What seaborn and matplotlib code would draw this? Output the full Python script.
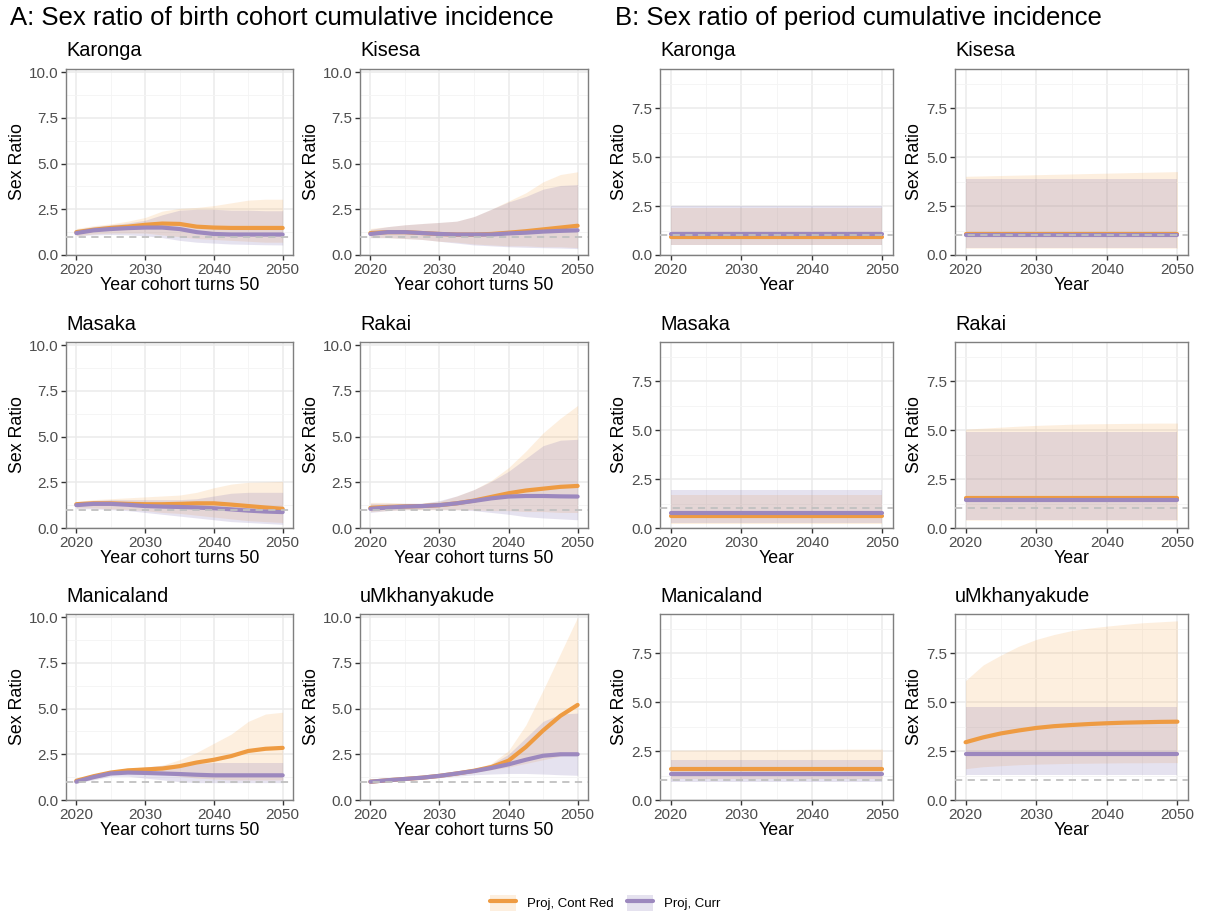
import numpy as np
import pandas as pd
import matplotlib
matplotlib.use("Agg")
import matplotlib.pyplot as plt
import seaborn as sns
from matplotlib.patches import Patch
from matplotlib.lines import Line2D
from matplotlib.ticker import MultipleLocator

# ---------------- data ----------------
years = [2020, 2022.5, 2025, 2027.5, 2030, 2032.5, 2035, 2037.5, 2040, 2042.5, 2045, 2047.5, 2050]
sites = ["Karonga", "Kisesa", "Masaka", "Rakai", "Manicaland", "uMkhanyakude"]
scenarios = ["Proj, Cont Red", "Proj, Curr"]

# Panel A: birth cohort cumulative incidence (mid, lo, hi)
karonga_A_red_mid = [1.25, 1.38, 1.48, 1.55, 1.65, 1.72, 1.70, 1.55, 1.50, 1.48, 1.48, 1.48, 1.48]
karonga_A_red_lo = [1.05, 1.15, 1.20, 1.20, 1.20, 1.10, 1.00, 0.90, 0.85, 0.80, 0.75, 0.70, 0.70]
karonga_A_red_hi = [1.45, 1.60, 1.70, 1.85, 2.05, 2.40, 2.55, 2.60, 2.70, 2.85, 3.00, 3.05, 3.05]
karonga_A_cur_mid = [1.20, 1.35, 1.42, 1.47, 1.50, 1.50, 1.42, 1.25, 1.15, 1.12, 1.12, 1.12, 1.12]
karonga_A_cur_lo = [1.05, 1.10, 1.12, 1.10, 1.05, 0.95, 0.80, 0.70, 0.65, 0.60, 0.58, 0.56, 0.55]
karonga_A_cur_hi = [1.40, 1.55, 1.65, 1.75, 1.90, 2.20, 2.45, 2.50, 2.50, 2.45, 2.45, 2.42, 2.42]

kisesa_A_red_mid = [1.20, 1.25, 1.25, 1.20, 1.15, 1.12, 1.12, 1.15, 1.22, 1.30, 1.40, 1.50, 1.60]
kisesa_A_red_lo = [0.95, 0.95, 0.90, 0.85, 0.75, 0.70, 0.60, 0.55, 0.50, 0.50, 0.45, 0.45, 0.40]
kisesa_A_red_hi = [1.45, 1.55, 1.65, 1.72, 1.78, 1.85, 2.10, 2.50, 2.95, 3.40, 4.00, 4.40, 4.55]
kisesa_A_cur_mid = [1.15, 1.25, 1.25, 1.20, 1.15, 1.12, 1.12, 1.12, 1.18, 1.22, 1.28, 1.32, 1.35]
kisesa_A_cur_lo = [0.95, 0.95, 0.90, 0.85, 0.75, 0.65, 0.55, 0.50, 0.45, 0.42, 0.40, 0.38, 0.35]
kisesa_A_cur_hi = [1.40, 1.55, 1.65, 1.72, 1.78, 1.85, 2.10, 2.50, 2.90, 3.20, 3.60, 3.80, 3.85]

masaka_A_red_mid = [1.30, 1.35, 1.35, 1.32, 1.30, 1.30, 1.32, 1.35, 1.35, 1.28, 1.20, 1.12, 1.05]
masaka_A_red_lo = [1.10, 1.10, 1.05, 1.00, 0.95, 0.85, 0.80, 0.70, 0.60, 0.50, 0.40, 0.35, 0.30]
masaka_A_red_hi = [1.45, 1.55, 1.60, 1.65, 1.70, 1.75, 1.80, 1.95, 2.20, 2.40, 2.50, 2.52, 2.55]
masaka_A_cur_mid = [1.25, 1.32, 1.32, 1.27, 1.20, 1.17, 1.15, 1.12, 1.08, 1.02, 0.95, 0.90, 0.87]
masaka_A_cur_lo = [1.05, 1.05, 1.00, 0.95, 0.85, 0.75, 0.65, 0.55, 0.45, 0.35, 0.30, 0.25, 0.20]
masaka_A_cur_hi = [1.45, 1.50, 1.55, 1.55, 1.55, 1.55, 1.55, 1.60, 1.75, 1.90, 1.95, 1.95, 1.95]

rakai_A_red_mid = [1.10, 1.15, 1.18, 1.20, 1.25, 1.35, 1.50, 1.70, 1.90, 2.05, 2.15, 2.25, 2.30]
rakai_A_red_lo = [0.90, 0.95, 1.00, 1.00, 1.00, 1.00, 1.00, 0.95, 0.95, 0.90, 0.90, 0.85, 0.85]
rakai_A_red_hi = [1.40, 1.40, 1.35, 1.35, 1.45, 1.75, 2.10, 2.60, 3.30, 4.20, 5.20, 6.00, 6.70]
rakai_A_cur_mid = [1.05, 1.12, 1.17, 1.20, 1.25, 1.35, 1.48, 1.62, 1.72, 1.75, 1.75, 1.73, 1.72]
rakai_A_cur_lo = [0.85, 0.95, 1.00, 1.02, 1.00, 1.00, 0.95, 0.85, 0.75, 0.62, 0.55, 0.50, 0.45]
rakai_A_cur_hi = [1.35, 1.35, 1.35, 1.35, 1.50, 1.75, 2.10, 2.55, 3.10, 3.80, 4.50, 4.80, 4.85]

manicaland_A_red_mid = [1.05, 1.30, 1.50, 1.62, 1.67, 1.72, 1.85, 2.05, 2.20, 2.40, 2.68, 2.80, 2.85]
manicaland_A_red_lo = [0.95, 1.15, 1.40, 1.50, 1.50, 1.40, 1.30, 1.20, 1.15, 1.10, 1.10, 1.10, 1.10]
manicaland_A_red_hi = [1.10, 1.35, 1.60, 1.75, 1.80, 1.90, 2.20, 2.60, 3.10, 3.60, 4.30, 4.70, 4.80]
manicaland_A_cur_mid = [1.00, 1.25, 1.45, 1.50, 1.48, 1.45, 1.42, 1.38, 1.35, 1.35, 1.35, 1.35, 1.35]
manicaland_A_cur_lo = [0.95, 1.10, 1.30, 1.30, 1.20, 1.10, 1.00, 0.95, 0.95, 0.95, 0.95, 0.95, 0.95]
manicaland_A_cur_hi = [1.10, 1.35, 1.55, 1.70, 1.80, 1.90, 1.95, 2.00, 2.05, 2.05, 2.05, 2.05, 2.05]

umkh_A_red_mid = [1.00, 1.08, 1.15, 1.22, 1.32, 1.45, 1.60, 1.80, 2.15, 2.90, 3.80, 4.60, 5.20]
umkh_A_red_lo = [0.95, 1.02, 1.10, 1.18, 1.27, 1.38, 1.50, 1.65, 1.80, 2.00, 2.20, 2.40, 2.60]
umkh_A_red_hi = [1.05, 1.12, 1.20, 1.28, 1.38, 1.52, 1.70, 2.00, 2.70, 4.10, 6.00, 8.00, 10.00]
umkh_A_cur_mid = [1.00, 1.08, 1.15, 1.22, 1.32, 1.45, 1.58, 1.75, 1.95, 2.20, 2.42, 2.50, 2.50]
umkh_A_cur_lo = [0.95, 1.02, 1.10, 1.15, 1.22, 1.30, 1.38, 1.42, 1.45, 1.45, 1.42, 1.38, 1.35]
umkh_A_cur_hi = [1.05, 1.12, 1.20, 1.28, 1.38, 1.52, 1.68, 1.95, 2.50, 3.40, 4.30, 4.70, 4.75]

# Panel B: period cumulative incidence (mid, lo, hi)
karonga_B_red_mid = [0.93, 0.93, 0.93, 0.93, 0.93, 0.93, 0.93, 0.93, 0.93, 0.93, 0.93, 0.93, 0.93]
karonga_B_red_lo = [0.50, 0.50, 0.50, 0.50, 0.50, 0.50, 0.50, 0.50, 0.50, 0.50, 0.50, 0.50, 0.50]
karonga_B_red_hi = [2.40, 2.40, 2.40, 2.40, 2.40, 2.40, 2.40, 2.40, 2.40, 2.40, 2.40, 2.40, 2.40]
karonga_B_cur_mid = [1.05, 1.05, 1.05, 1.05, 1.05, 1.05, 1.05, 1.05, 1.05, 1.05, 1.05, 1.05, 1.05]
karonga_B_cur_lo = [0.52, 0.52, 0.52, 0.52, 0.52, 0.52, 0.52, 0.52, 0.52, 0.52, 0.52, 0.52, 0.52]
karonga_B_cur_hi = [2.50, 2.50, 2.50, 2.50, 2.50, 2.50, 2.50, 2.50, 2.50, 2.50, 2.50, 2.50, 2.50]

kisesa_B_red_mid = [1.08, 1.08, 1.08, 1.08, 1.08, 1.08, 1.08, 1.08, 1.08, 1.08, 1.08, 1.08, 1.08]
kisesa_B_red_lo = [0.35, 0.35, 0.35, 0.35, 0.35, 0.35, 0.35, 0.35, 0.35, 0.35, 0.35, 0.35, 0.35]
kisesa_B_red_hi = [4.02, 4.04, 4.06, 4.08, 4.10, 4.12, 4.14, 4.16, 4.18, 4.20, 4.22, 4.24, 4.26]
kisesa_B_cur_mid = [1.00, 1.00, 1.00, 1.00, 1.00, 1.00, 1.00, 1.00, 1.00, 1.00, 1.00, 1.00, 1.00]
kisesa_B_cur_lo = [0.36, 0.36, 0.36, 0.36, 0.36, 0.36, 0.36, 0.36, 0.36, 0.36, 0.36, 0.36, 0.36]
kisesa_B_cur_hi = [3.90, 3.90, 3.90, 3.90, 3.90, 3.90, 3.90, 3.90, 3.90, 3.90, 3.90, 3.90, 3.90]

masaka_B_red_mid = [0.62, 0.62, 0.62, 0.62, 0.62, 0.62, 0.62, 0.62, 0.62, 0.62, 0.62, 0.62, 0.62]
masaka_B_red_lo = [0.20, 0.20, 0.20, 0.20, 0.20, 0.20, 0.20, 0.20, 0.20, 0.20, 0.20, 0.20, 0.20]
masaka_B_red_hi = [1.70, 1.70, 1.70, 1.70, 1.70, 1.70, 1.70, 1.70, 1.70, 1.70, 1.70, 1.70, 1.70]
masaka_B_cur_mid = [0.75, 0.75, 0.75, 0.75, 0.75, 0.75, 0.75, 0.75, 0.75, 0.75, 0.75, 0.75, 0.75]
masaka_B_cur_lo = [0.25, 0.25, 0.25, 0.25, 0.25, 0.25, 0.25, 0.25, 0.25, 0.25, 0.25, 0.25, 0.25]
masaka_B_cur_hi = [1.95, 1.95, 1.95, 1.95, 1.95, 1.95, 1.95, 1.95, 1.95, 1.95, 1.95, 1.95, 1.95]

rakai_B_red_mid = [1.52, 1.52, 1.52, 1.52, 1.52, 1.52, 1.52, 1.52, 1.52, 1.52, 1.52, 1.52, 1.52]
rakai_B_red_lo = [0.40, 0.40, 0.40, 0.40, 0.40, 0.40, 0.40, 0.40, 0.40, 0.40, 0.40, 0.40, 0.40]
rakai_B_red_hi = [5.05, 5.10, 5.15, 5.20, 5.24, 5.27, 5.30, 5.32, 5.33, 5.34, 5.35, 5.36, 5.36]
rakai_B_cur_mid = [1.42, 1.42, 1.42, 1.42, 1.42, 1.42, 1.42, 1.42, 1.42, 1.42, 1.42, 1.42, 1.42]
rakai_B_cur_lo = [0.42, 0.42, 0.42, 0.42, 0.42, 0.42, 0.42, 0.42, 0.42, 0.42, 0.42, 0.42, 0.42]
rakai_B_cur_hi = [4.90, 4.90, 4.90, 4.90, 4.90, 4.90, 4.90, 4.90, 4.90, 4.90, 4.90, 4.90, 4.90]

manicaland_B_red_mid = [1.58, 1.58, 1.58, 1.58, 1.58, 1.58, 1.58, 1.58, 1.58, 1.58, 1.58, 1.58, 1.58]
manicaland_B_red_lo = [1.10, 1.10, 1.10, 1.10, 1.10, 1.10, 1.10, 1.10, 1.10, 1.10, 1.10, 1.10, 1.10]
manicaland_B_red_hi = [2.55, 2.55, 2.56, 2.56, 2.57, 2.57, 2.58, 2.58, 2.59, 2.59, 2.60, 2.60, 2.60]
manicaland_B_cur_mid = [1.32, 1.32, 1.32, 1.32, 1.32, 1.32, 1.32, 1.32, 1.32, 1.32, 1.32, 1.32, 1.32]
manicaland_B_cur_lo = [0.90, 0.90, 0.90, 0.90, 0.90, 0.90, 0.90, 0.90, 0.90, 0.90, 0.90, 0.90, 0.90]
manicaland_B_cur_hi = [2.05, 2.05, 2.05, 2.05, 2.05, 2.05, 2.05, 2.05, 2.05, 2.05, 2.05, 2.05, 2.05]

umkh_B_red_mid = [2.95, 3.20, 3.40, 3.55, 3.68, 3.77, 3.83, 3.88, 3.92, 3.95, 3.97, 3.99, 4.00]
umkh_B_red_lo = [1.60, 1.70, 1.75, 1.80, 1.83, 1.85, 1.87, 1.88, 1.89, 1.90, 1.90, 1.91, 1.91]
umkh_B_red_hi = [6.10, 6.90, 7.40, 7.85, 8.20, 8.45, 8.65, 8.78, 8.88, 8.97, 9.05, 9.10, 9.15]
umkh_B_cur_mid = [2.35, 2.35, 2.35, 2.35, 2.35, 2.35, 2.35, 2.35, 2.35, 2.35, 2.35, 2.35, 2.35]
umkh_B_cur_lo = [1.30, 1.30, 1.30, 1.30, 1.30, 1.30, 1.30, 1.30, 1.30, 1.30, 1.30, 1.30, 1.30]
umkh_B_cur_hi = [4.75, 4.75, 4.75, 4.75, 4.75, 4.75, 4.75, 4.75, 4.75, 4.75, 4.75, 4.75, 4.75]

A_series = {
    "Karonga": [(karonga_A_red_mid, karonga_A_red_lo, karonga_A_red_hi), (karonga_A_cur_mid, karonga_A_cur_lo, karonga_A_cur_hi)],
    "Kisesa": [(kisesa_A_red_mid, kisesa_A_red_lo, kisesa_A_red_hi), (kisesa_A_cur_mid, kisesa_A_cur_lo, kisesa_A_cur_hi)],
    "Masaka": [(masaka_A_red_mid, masaka_A_red_lo, masaka_A_red_hi), (masaka_A_cur_mid, masaka_A_cur_lo, masaka_A_cur_hi)],
    "Rakai": [(rakai_A_red_mid, rakai_A_red_lo, rakai_A_red_hi), (rakai_A_cur_mid, rakai_A_cur_lo, rakai_A_cur_hi)],
    "Manicaland": [(manicaland_A_red_mid, manicaland_A_red_lo, manicaland_A_red_hi), (manicaland_A_cur_mid, manicaland_A_cur_lo, manicaland_A_cur_hi)],
    "uMkhanyakude": [(umkh_A_red_mid, umkh_A_red_lo, umkh_A_red_hi), (umkh_A_cur_mid, umkh_A_cur_lo, umkh_A_cur_hi)],
}
B_series = {
    "Karonga": [(karonga_B_red_mid, karonga_B_red_lo, karonga_B_red_hi), (karonga_B_cur_mid, karonga_B_cur_lo, karonga_B_cur_hi)],
    "Kisesa": [(kisesa_B_red_mid, kisesa_B_red_lo, kisesa_B_red_hi), (kisesa_B_cur_mid, kisesa_B_cur_lo, kisesa_B_cur_hi)],
    "Masaka": [(masaka_B_red_mid, masaka_B_red_lo, masaka_B_red_hi), (masaka_B_cur_mid, masaka_B_cur_lo, masaka_B_cur_hi)],
    "Rakai": [(rakai_B_red_mid, rakai_B_red_lo, rakai_B_red_hi), (rakai_B_cur_mid, rakai_B_cur_lo, rakai_B_cur_hi)],
    "Manicaland": [(manicaland_B_red_mid, manicaland_B_red_lo, manicaland_B_red_hi), (manicaland_B_cur_mid, manicaland_B_cur_lo, manicaland_B_cur_hi)],
    "uMkhanyakude": [(umkh_B_red_mid, umkh_B_red_lo, umkh_B_red_hi), (umkh_B_cur_mid, umkh_B_cur_lo, umkh_B_cur_hi)],
}

# ---------------- style ----------------
sns.set_theme(style="white")
plt.rcParams["font.family"] = ["Liberation Sans", "DejaVu Sans"]
plt.rcParams["text.color"] = "black"

line_colors = {"Proj, Cont Red": "#EE9B42", "Proj, Curr": "#9C88BE"}
fill_colors = {"Proj, Cont Red": "#F8A850", "Proj, Curr": "#7A68AE"}
fill_alpha = {"Proj, Cont Red": 0.18, "Proj, Curr": 0.19}

W, H = 1210, 915
fig = plt.figure(figsize=(W / 100, H / 100), dpi=100)

col_left = [66, 360, 660, 955]
col_w = [227, 228, 233, 233]
row_top = [69, 342, 614]
ax_h = 186


def draw_panel(ax, site, series, ymax, yticks, xlabel):
    rows = []
    for scen, (mid, lo, hi) in zip(scenarios, series):
        ax.fill_between(years, lo, hi, color=fill_colors[scen], alpha=fill_alpha[scen],
                        linewidth=0, zorder=1)
        for yr, v in zip(years, mid):
            rows.append({"year": yr, "ratio": v, "scenario": scen})
    df = pd.DataFrame(rows)
    sns.lineplot(data=df, x="year", y="ratio", hue="scenario", hue_order=scenarios,
                 palette=line_colors, linewidth=3.0, legend=False, ax=ax, zorder=3)
    ax.axhline(1.0, color="#C0C0C0", linestyle=(0, (4, 3)), linewidth=1.3, zorder=4)
    ax.set_xlim(2018.5, 2051.5)
    ax.set_ylim(0, ymax)
    ax.set_xticks([2020, 2030, 2040, 2050])
    ax.xaxis.set_minor_locator(MultipleLocator(5))
    ax.set_yticks(yticks)
    ax.set_yticklabels([f"{t:.1f}" for t in yticks])
    ax.yaxis.set_minor_locator(MultipleLocator(1.25))
    ax.grid(True, which="major", color="#EBEBEB", linewidth=1.1, zorder=0)
    ax.grid(True, which="minor", color="#F4F4F4", linewidth=0.6, zorder=0)
    ax.set_axisbelow(True)
    for s in ax.spines.values():
        s.set_color("#7F7F7F")
        s.set_linewidth(1.0)
    ax.tick_params(axis="both", which="major", length=3.5, width=1.0, color="#333333",
                   labelsize=11, labelcolor="#4D4D4D", pad=2, bottom=True, left=True)
    ax.tick_params(axis="both", which="minor", length=0)
    ax.set_xlabel(xlabel, fontsize=12.8, color="black", labelpad=0)
    ax.set_ylabel("Sex Ratio", fontsize=12.8, color="black", labelpad=2)
    ax.set_title(site, loc="left", fontsize=14.3, pad=9, color="black")


for i, site in enumerate(sites):
    r, c = divmod(i, 2)
    # panel A
    axA = fig.add_axes([col_left[c] / W, 1 - (row_top[r] + ax_h) / H, col_w[c] / W, ax_h / H])
    draw_panel(axA, site, A_series[site], 10.17, [0, 2.5, 5.0, 7.5, 10.0], "Year cohort turns 50")
    # panel B
    axB = fig.add_axes([col_left[c + 2] / W, 1 - (row_top[r] + ax_h) / H, col_w[c + 2] / W, ax_h / H])
    draw_panel(axB, site, B_series[site], 9.5, [0, 2.5, 5.0, 7.5], "Year")

fig.text(10 / W, 1 - 18 / H, "A: Sex ratio of birth cohort cumulative incidence",
         fontsize=18.5, va="center", ha="left", color="black")
fig.text(615 / W, 1 - 18 / H, "B: Sex ratio of period cumulative incidence",
         fontsize=18.5, va="center", ha="left", color="black")

handles = [(Patch(facecolor=fill_colors[s], alpha=fill_alpha[s], edgecolor="none"),
            Line2D([0], [0], color=line_colors[s], linewidth=3.0)) for s in scenarios]
leg = fig.legend(handles, scenarios, loc="center", bbox_to_anchor=(0.5, 1 - 903 / H), ncol=2,
                 frameon=False, fontsize=9.5, handlelength=2.0, handleheight=1.6,
                 columnspacing=1.0, handletextpad=0.8)
for t in leg.get_texts():
    t.set_color("black")

fig.savefig("out.png", dpi=100, facecolor="white")
